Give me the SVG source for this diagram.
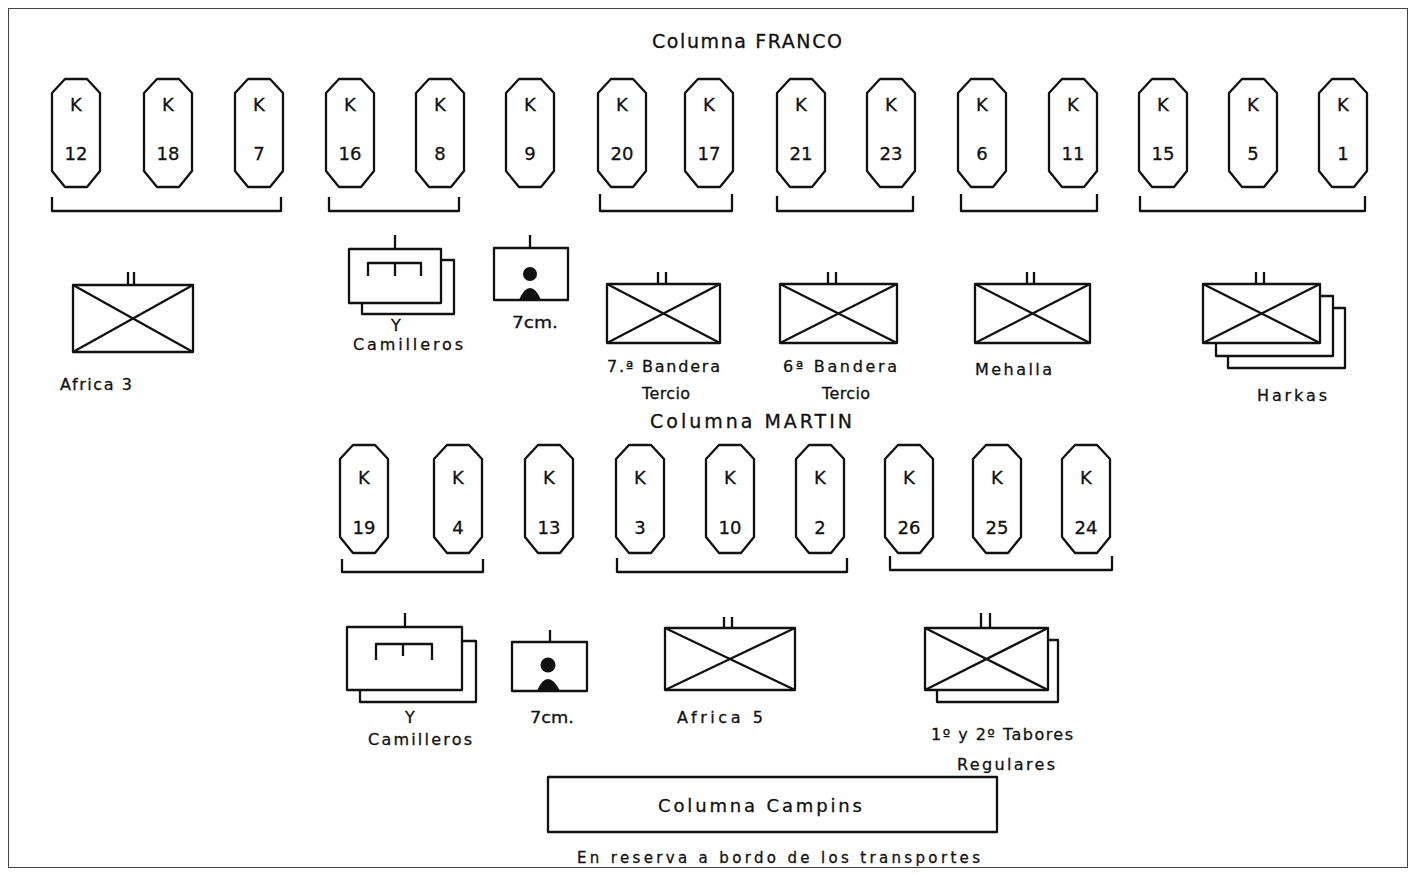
<svg xmlns="http://www.w3.org/2000/svg" width="1416" height="875" viewBox="0 0 1416 875">
<style>
.s{fill:none;stroke:#111;stroke-width:2.3;stroke-linejoin:round}
.w{fill:#fff;stroke:#111;stroke-width:2.3;stroke-linejoin:round}
.t{font-family:"DejaVu Sans","Liberation Sans",sans-serif;fill:#111;stroke:#111;stroke-width:0.3}
.k{font-size:18px;text-anchor:middle}
.n{font-size:18px;text-anchor:middle}
.l{font-size:16px}
.h{font-size:19px}
</style>
<defs>
<path id="oct" class="w" d="M-24,-40 L-11,-54 L11,-54 L24,-40 L24,38 L11,54 L-11,54 L-24,38 Z"/>
</defs>
<rect x="8.5" y="8.5" width="1399" height="859" fill="#fff" stroke="#444" stroke-width="1"/>

<g id="title-franco"><text class="t h" x="652" y="48" textLength="190" lengthAdjust="spacing">Columna FRANCO</text></g>

<g id="k12" transform="translate(76,133)"><use href="#oct"/><text class="t k" x="0" y="-22">K</text><text class="t n" x="0" y="27">12</text></g>
<g id="k18" transform="translate(168,133)"><use href="#oct"/><text class="t k" x="0" y="-22">K</text><text class="t n" x="0" y="27">18</text></g>
<g id="k7" transform="translate(259,133)"><use href="#oct"/><text class="t k" x="0" y="-22">K</text><text class="t n" x="0" y="27">7</text></g>
<g id="k16" transform="translate(350,133)"><use href="#oct"/><text class="t k" x="0" y="-22">K</text><text class="t n" x="0" y="27">16</text></g>
<g id="k8" transform="translate(440,133)"><use href="#oct"/><text class="t k" x="0" y="-22">K</text><text class="t n" x="0" y="27">8</text></g>
<g id="k9" transform="translate(530,133)"><use href="#oct"/><text class="t k" x="0" y="-22">K</text><text class="t n" x="0" y="27">9</text></g>
<g id="k20" transform="translate(622,133)"><use href="#oct"/><text class="t k" x="0" y="-22">K</text><text class="t n" x="0" y="27">20</text></g>
<g id="k17" transform="translate(709,133)"><use href="#oct"/><text class="t k" x="0" y="-22">K</text><text class="t n" x="0" y="27">17</text></g>
<g id="k21" transform="translate(801,133)"><use href="#oct"/><text class="t k" x="0" y="-22">K</text><text class="t n" x="0" y="27">21</text></g>
<g id="k23" transform="translate(891,133)"><use href="#oct"/><text class="t k" x="0" y="-22">K</text><text class="t n" x="0" y="27">23</text></g>
<g id="k6" transform="translate(982,133)"><use href="#oct"/><text class="t k" x="0" y="-22">K</text><text class="t n" x="0" y="27">6</text></g>
<g id="k11" transform="translate(1073,133)"><use href="#oct"/><text class="t k" x="0" y="-22">K</text><text class="t n" x="0" y="27">11</text></g>
<g id="k15" transform="translate(1163,133)"><use href="#oct"/><text class="t k" x="0" y="-22">K</text><text class="t n" x="0" y="27">15</text></g>
<g id="k5" transform="translate(1253,133)"><use href="#oct"/><text class="t k" x="0" y="-22">K</text><text class="t n" x="0" y="27">5</text></g>
<g id="k1" transform="translate(1343,133)"><use href="#oct"/><text class="t k" x="0" y="-22">K</text><text class="t n" x="0" y="27">1</text></g>

<g id="connectors">
<path class="s" d="M52,197 V211 H281 V197"/>
<path class="s" d="M329,197 V211 H459 V197"/>
<path class="s" d="M600,194 V211 H732 V194"/>
<path class="s" d="M777,196 V211 H913 V196"/>
<path class="s" d="M961,194 V211 H1097 V194"/>
<path class="s" d="M1140,196 V211 H1365 V196"/>
<path class="s" d="M342,559 V572 H483 V559"/>
<path class="s" d="M617,558 V572 H847 V558"/>
<path class="s" d="M890,556 V570 H1112 V556"/>
</g>

<g id="africa3">
<path class="s" d="M128,272 V285 M134,272 V285"/>
<rect class="s" x="73" y="285" width="120" height="67"/>
<path class="s" d="M73,285 L193,352 M193,285 L73,352"/>
<text class="t l" x="60" y="390" textLength="72" lengthAdjust="spacing">Africa 3</text>
</g>

<g id="camilleros1">
<rect class="w" x="362" y="260" width="92" height="54"/>
<rect class="w" x="349" y="249" width="92" height="54"/>
<path class="s" d="M395,235 V249 M368,276 V263 H421 V276 M395,263 V276"/>
<text class="t l" x="396" y="331" text-anchor="middle">Y</text>
<text class="t l" x="353" y="350" textLength="110" lengthAdjust="spacing">Camilleros</text>
</g>

<g id="cm7a">
<path class="s" d="M530,235 V248"/>
<rect class="s" x="494" y="248" width="74" height="52"/>
<circle cx="530" cy="274" r="7" fill="#111"/>
<path d="M519,300 Q524,288 530,288 Q536,288 541,300 Z" fill="#111"/>
<text class="t l" x="512" y="328" textLength="46" lengthAdjust="spacingAndGlyphs">7cm.</text>
</g>

<g id="bandera7">
<path class="s" d="M658,272 V284 M666,272 V284"/>
<rect class="s" x="607" y="284" width="113" height="59"/>
<path class="s" d="M607,284 L720,343 M720,284 L607,343"/>
<text class="t l" x="607" y="372" textLength="113" lengthAdjust="spacing">7.ª Bandera</text>
<text class="t l" x="642" y="399" textLength="48" lengthAdjust="spacing">Tercio</text>
</g>

<g id="bandera6">
<path class="s" d="M828,272 V284 M836,272 V284"/>
<rect class="s" x="780" y="284" width="117" height="59"/>
<path class="s" d="M780,284 L897,343 M897,284 L780,343"/>
<text class="t l" x="783" y="372" textLength="114" lengthAdjust="spacing">6ª Bandera</text>
<text class="t l" x="822" y="399" textLength="48" lengthAdjust="spacing">Tercio</text>
</g>

<g id="mehalla">
<path class="s" d="M1027,272 V284 M1034,272 V284"/>
<rect class="s" x="975" y="284" width="115" height="59"/>
<path class="s" d="M975,284 L1090,343 M1090,284 L975,343"/>
<text class="t l" x="975" y="375" textLength="77" lengthAdjust="spacing">Mehalla</text>
</g>

<g id="harkas">
<rect class="w" x="1228" y="308" width="117" height="60"/>
<rect class="w" x="1216" y="296" width="117" height="60"/>
<path class="s" d="M1256,272 V284 M1264,272 V284"/>
<rect class="w" x="1203" y="284" width="117" height="59"/>
<path class="s" d="M1203,284 L1320,343 M1320,284 L1203,343"/>
<text class="t l" x="1257" y="401" textLength="70" lengthAdjust="spacing">Harkas</text>
</g>

<g id="title-martin"><text class="t h" x="650" y="428" textLength="202" lengthAdjust="spacing">Columna MARTIN</text></g>

<g id="k19" transform="translate(364,499)"><use href="#oct"/><text class="t k" x="0" y="-15">K</text><text class="t n" x="0" y="35">19</text></g>
<g id="k4" transform="translate(458,499)"><use href="#oct"/><text class="t k" x="0" y="-15">K</text><text class="t n" x="0" y="35">4</text></g>
<g id="k13" transform="translate(549,499)"><use href="#oct"/><text class="t k" x="0" y="-15">K</text><text class="t n" x="0" y="35">13</text></g>
<g id="k3" transform="translate(640,499)"><use href="#oct"/><text class="t k" x="0" y="-15">K</text><text class="t n" x="0" y="35">3</text></g>
<g id="k10" transform="translate(730,499)"><use href="#oct"/><text class="t k" x="0" y="-15">K</text><text class="t n" x="0" y="35">10</text></g>
<g id="k2" transform="translate(820,499)"><use href="#oct"/><text class="t k" x="0" y="-15">K</text><text class="t n" x="0" y="35">2</text></g>
<g id="k26" transform="translate(909,499)"><use href="#oct"/><text class="t k" x="0" y="-15">K</text><text class="t n" x="0" y="35">26</text></g>
<g id="k25" transform="translate(997,499)"><use href="#oct"/><text class="t k" x="0" y="-15">K</text><text class="t n" x="0" y="35">25</text></g>
<g id="k24" transform="translate(1086,499)"><use href="#oct"/><text class="t k" x="0" y="-15">K</text><text class="t n" x="0" y="35">24</text></g>

<g id="camilleros2">
<rect class="w" x="360" y="641" width="116" height="61"/>
<rect class="w" x="347" y="627" width="115" height="63"/>
<path class="s" d="M405,613 V627 M376,660 V644 H432 V660 M403,644 V656"/>
<text class="t l" x="410" y="723" text-anchor="middle">Y</text>
<text class="t l" x="368" y="745" textLength="104" lengthAdjust="spacing">Camilleros</text>
</g>

<g id="cm7b">
<path class="s" d="M550,630 V642"/>
<rect class="s" x="512" y="642" width="75" height="49"/>
<circle cx="548" cy="665" r="7.5" fill="#111"/>
<path d="M537,691 Q542,679 548,679 Q554,679 560,691 Z" fill="#111"/>
<text class="t l" x="530" y="723" textLength="44" lengthAdjust="spacingAndGlyphs">7cm.</text>
</g>

<g id="africa5">
<path class="s" d="M724,617 V628 M732,617 V628"/>
<rect class="s" x="665" y="628" width="130" height="62"/>
<path class="s" d="M665,628 L795,690 M795,628 L665,690"/>
<text class="t l" x="677" y="723" textLength="86" lengthAdjust="spacing">Africa 5</text>
</g>

<g id="tabores">
<rect class="w" x="937" y="640" width="121" height="62"/>
<path class="s" d="M981,613 V628 M990,613 V628"/>
<rect class="w" x="925" y="628" width="123" height="62"/>
<path class="s" d="M925,628 L1048,690 M1048,628 L925,690"/>
<text class="t l" x="931" y="740" textLength="142" lengthAdjust="spacing">1º y 2º Tabores</text>
<text class="t l" x="957" y="770" textLength="98" lengthAdjust="spacing">Regulares</text>
</g>

<g id="campins">
<rect class="s" x="548" y="777" width="449" height="55"/>
<text class="t" x="658" y="812" font-size="18" textLength="204" lengthAdjust="spacing">Columna Campins</text>
<text class="t" x="577" y="863" font-size="15" textLength="403" lengthAdjust="spacing">En reserva a bordo de los transportes</text>
</g>
</svg>
